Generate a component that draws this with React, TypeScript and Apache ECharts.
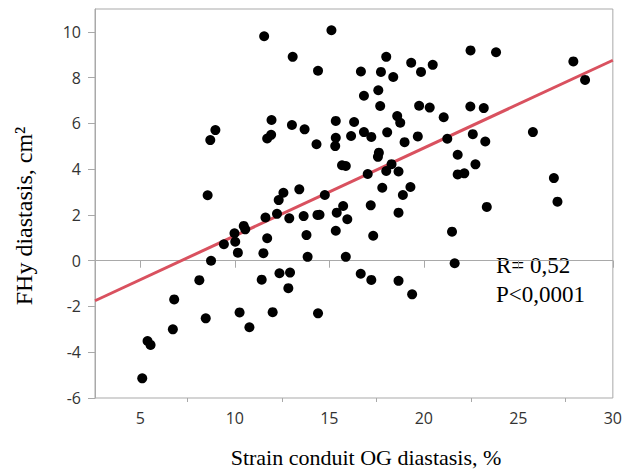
import React, { useEffect, useRef } from "react";
import * as echarts from "echarts";

// Strain conduit OG diastasis, % (x) and FHy diastasis, cm² (y)
const strainValues: number[] = [
  11.55, 11.94, 8.97, 8.70, 11.71, 11.92, 8.56, 13.06, 14.40, 13.02,
  13.69, 14.32, 13.41, 12.57, 12.32, 12.23, 12.88, 13.64, 14.37, 14.48,
  11.62, 10.47, 10.55, 9.98, 11.71, 13.79, 10.02, 9.42, 10.16, 11.51,
  13.85, 8.74, 8.12, 11.42, 12.36, 12.92, 12.83, 6.79, 10.25, 12.00,
  14.40, 8.46, 10.77, 6.72, 5.38, 5.54, 5.10, 15.11, 18.01, 16.67,
  17.73, 18.38, 19.33, 19.85, 20.47, 17.59, 16.83, 17.69, 19.75, 20.31,
  21.05, 15.34, 16.31, 18.59, 18.75, 16.83, 17.22, 18.06, 19.68, 18.98,
  15.34, 16.15, 15.31, 17.62, 17.57, 15.67, 15.87, 18.29, 18.01, 18.66,
  17.03, 14.76, 17.80, 19.29, 18.89, 15.73, 17.19, 15.39, 15.95, 18.66,
  15.34, 17.32, 15.87, 16.66, 17.22, 18.66, 19.38, 22.47, 23.82, 27.91,
  28.53, 22.46, 23.17, 21.24, 22.59, 23.25, 25.77, 21.79, 22.73, 21.79,
  22.14, 26.88, 27.07, 23.33, 21.49, 21.63,
];
const fhyValues: number[] = [
  9.81, 6.15, 5.71, 5.27, 5.34, 5.50, 2.86, 8.91, 8.30, 5.93,
  5.74, 5.09, 3.12, 2.97, 2.65, 2.05, 1.85, 1.95, 2.00, 2.01,
  1.89, 1.52, 1.37, 1.20, 0.98, 1.12, 0.83, 0.72, 0.35, 0.33,
  0.17, 0.00, -0.85, -0.83, -0.55, -0.52, -1.20, -1.69, -2.26, -2.25,
  -2.30, -2.52, -2.91, -3.00, -3.51, -3.68, -5.14, 10.07, 8.91, 8.27,
  8.25, 8.03, 8.65, 8.25, 8.56, 7.45, 7.21, 6.76, 6.77, 6.69,
  6.27, 6.11, 6.06, 6.32, 6.03, 5.62, 5.41, 5.61, 5.43, 5.18,
  5.37, 5.45, 5.01, 4.72, 4.54, 4.17, 4.14, 4.22, 3.92, 3.90,
  3.79, 2.87, 3.19, 3.22, 2.87, 2.39, 2.42, 2.10, 1.81, 2.10,
  1.31, 1.09, 0.17, -0.57, -0.84, -0.88, -1.47, 9.19, 9.11, 8.71,
  7.90, 6.74, 6.67, 5.33, 5.53, 5.21, 5.62, 4.63, 4.21, 3.77,
  3.82, 3.61, 2.58, 2.35, 1.27, -0.11,
];

// Fitted line end points (x, y)
const fitX: number[] = [2.6, 30];
const fitY: number[] = [-1.75, 8.76];

const xLabelValues: number[] = [5, 10, 15, 20, 25, 30];
const xMinorValues: number[] = [7.5, 12.5, 17.5, 22.5, 27.5];
const yLabelValues: number[] = [-6, -4, -2, 0, 2, 4, 6, 8, 10];

const statLines: string[] = ["R= 0,52", "P<0,0001"];
const xTitle = "Strain conduit OG diastasis, %";
const yTitle = "FHy diastasis, cm²";

const serif = "'Liberation Serif', 'Times New Roman', serif";
const sans = "'Open Sans', 'Noto Sans', sans-serif";

export default function App() {
  const ref = useRef<HTMLDivElement>(null);

  useEffect(() => {
    if (!ref.current) return;
    const chart = echarts.init(ref.current, undefined, { renderer: "svg" });
    const points = strainValues.map((x, i) => [x, fhyValues[i]]);
    const fit = fitX.map((x, i) => [x, fitY[i]]);
    const frame = "#a9a9a9";

    chart.setOption({
      animation: false,
      backgroundColor: "#ffffff",
      grid: {
        left: 95,
        right: 10,
        top: 9,
        bottom: 74,
        show: true,
        borderColor: frame,
        borderWidth: 1,
        backgroundColor: "transparent",
      },
      xAxis: [
        {
          type: "value",
          min: 2.6,
          max: 30,
          position: "bottom",
          splitLine: { show: false },
          axisLine: { show: true, lineStyle: { color: frame } },
          axisTick: {
            show: true,
            customValues: xLabelValues,
            length: 7,
            lineStyle: { color: frame },
          },
          axisLabel: {
            customValues: xLabelValues,
            color: "#333333",
            fontFamily: sans,
            fontSize: 16,
            margin: 12,
          },
        },
        {
          type: "value",
          min: 2.6,
          max: 30,
          position: "bottom",
          splitLine: { show: false },
          axisLine: { show: false },
          axisTick: {
            show: true,
            customValues: xMinorValues,
            length: 4,
            lineStyle: { color: frame },
          },
          axisLabel: { show: false },
        },
      ],
      yAxis: {
        type: "value",
        min: -6,
        max: 11,
        splitLine: { show: false },
        axisLine: { show: true, lineStyle: { color: frame } },
        axisTick: {
          show: true,
          customValues: yLabelValues,
          length: 7,
          lineStyle: { color: frame },
        },
        axisLabel: {
          customValues: yLabelValues,
          color: "#333333",
          fontFamily: sans,
          fontSize: 16,
          margin: 14,
        },
      },
      series: [
        {
          type: "line",
          data: fit,
          xAxisIndex: 0,
          showSymbol: false,
          symbol: "none",
          lineStyle: { color: "#d9515f", width: 3 },
          z: 2,
        },
        {
          type: "scatter",
          data: points,
          xAxisIndex: 0,
          symbol: "circle",
          symbolSize: 10,
          itemStyle: { color: "#000000", opacity: 1 },
          z: 3,
        },
      ],
      graphic: [
        {
          type: "text",
          x: 496,
          y: 265,
          style: {
            text: statLines[0],
            fontFamily: serif,
            fontSize: 23,
            fill: "#000000",
            verticalAlign: "middle",
            align: "left",
          },
        },
        {
          type: "text",
          x: 496,
          y: 294,
          style: {
            text: statLines[1],
            fontFamily: serif,
            fontSize: 23,
            fill: "#000000",
            verticalAlign: "middle",
            align: "left",
          },
        },
        {
          type: "text",
          x: 366,
          y: 457,
          style: {
            text: xTitle,
            fontFamily: serif,
            fontSize: 22,
            fill: "#000000",
            verticalAlign: "middle",
            align: "center",
          },
        },
        {
          type: "text",
          x: 24,
          y: 216,
          rotation: Math.PI / 2,
          style: {
            text: yTitle,
            fontFamily: serif,
            fontSize: 24,
            fill: "#000000",
            verticalAlign: "middle",
            align: "center",
          },
        },
      ],
    });

    return () => chart.dispose();
  }, []);

  return <div ref={ref} style={{ width: 625, height: 472, position: "absolute", left: 0, top: 0 }} />;
}
